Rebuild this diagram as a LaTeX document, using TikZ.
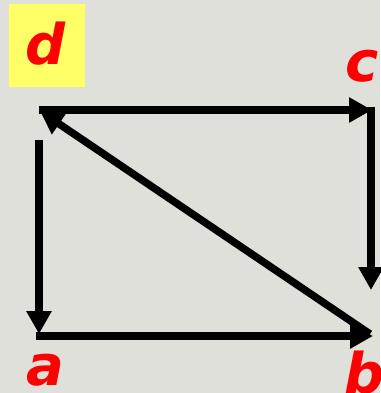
\documentclass[tikz,border=0pt]{standalone}
\usepackage{fontspec}
\setmainfont{DejaVu Sans}
\usetikzlibrary{arrows.meta}
\definecolor{bg}{HTML}{E0E0DA}
\definecolor{yel}{HTML}{FFFF66}
\definecolor{lbl}{HTML}{FF0000}
\begin{document}
\begin{tikzpicture}[x=1pt,y=-1pt,
  edge/.style={line width=7.5pt,-{Triangle[length=23pt,width=24pt]}},
  lab/.style={text=lbl,font=\fontsize{56}{56}\selectfont\bfseries\itshape,inner sep=0pt,anchor=base}]
\fill[bg] (0,0) rectangle (380,393);
\useasboundingbox (0,0) rectangle (380,393);
\node[fill=yel,minimum width=76pt,minimum height=83pt,inner sep=0pt] (dbox) at (47,45.5) {};
\node[lab] (dl) at (46,65) {d};
\node[lab] (cl) at (362,82) {c};
\node[lab] (al) at (45,385) {a};
\node[lab] (bl) at (365,393) {b};
\coordinate (D) at (39,110);
\coordinate (C) at (372,110);
\coordinate (Cv) at (371,107);
\coordinate (Ce) at (371,290);
\coordinate (As) at (39,140);
\coordinate (Ae) at (39,334);
\coordinate (A) at (36,336);
\coordinate (B) at (373,336);
\coordinate (Bs) at (370,334);
\coordinate (De) at (40,111);
\draw[edge] (D) -- (C);
\draw[edge] (Cv) -- (Ce);
\draw[edge] (As) -- (Ae);
\draw[edge] (A) -- (B);
\draw[edge] (Bs) -- (De);
\end{tikzpicture}
\end{document}
